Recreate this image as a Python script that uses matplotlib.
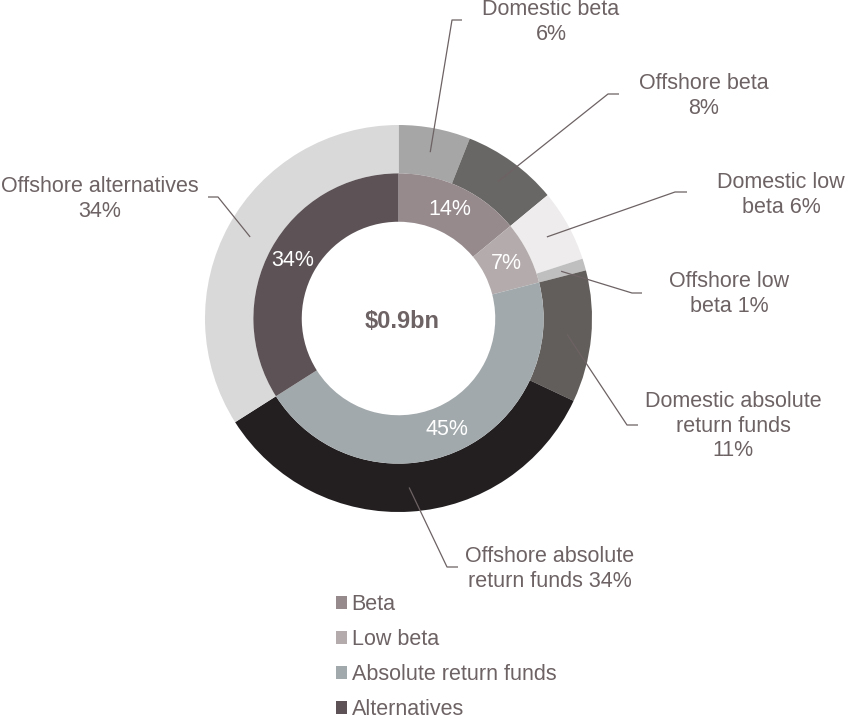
import matplotlib.pyplot as plt
import numpy as np

plt.rcParams['font.family'] = ['Liberation Sans', 'DejaVu Sans']

# inner ring: asset class split
inner_labels = ['Beta', 'Low beta', 'Absolute return funds', 'Alternatives']
inner_values = [14, 7, 45, 34]
inner_colors = ['#968a8d', '#b4acac', '#a2a9ac', '#5d5356']

# outer ring: domestic / offshore split
outer_labels = ['Domestic beta\n6%', 'Offshore beta\n8%', 'Domestic low\nbeta 6%',
                'Offshore low\nbeta 1%', 'Domestic absolute\nreturn funds\n11%',
                'Offshore absolute\nreturn funds 34%', 'Offshore alternatives\n34%']
outer_values = [6, 8, 6, 1, 11, 34, 34]
outer_colors = ['#a6a6a6', '#696765', '#eeecec', '#c0bfbf', '#625e5b', '#231f20', '#d9d9d9']

total_label = '$0.9bn'

txt = '#6d6264'
fs = 15.5

# pixel layout helpers
W, H = 846, 720
cx, cy, R = 398.5, 318.5, 193.5


def P(x, y):
    return ((x - cx) / R, (cy - y) / R)


fig = plt.figure(figsize=(W / 100, H / 100), dpi=100)
ax = fig.add_axes([0, 0, 1, 1])

outer_w, _ = ax.pie(outer_values, radius=1.0, startangle=90, counterclock=False,
                    colors=outer_colors, wedgeprops=dict(width=0.25, edgecolor='none'))
inner_w, _, autot = ax.pie(inner_values, radius=0.75, startangle=90, counterclock=False,
                           colors=inner_colors, autopct='%d%%', pctdistance=0.833,
                           wedgeprops=dict(width=0.25, edgecolor='none'),
                           textprops=dict(color='white', fontsize=fs))

ax.text(*P(402, 322), total_label, ha='center', va='center', fontsize=17,
        fontweight='bold', color=txt)

# label block centre, elbow, line end (pixels)
label_pos = [
    ((551, 22), (452, 20), (462, 20)),
    ((704, 96), (608, 94), (619, 94)),
    ((781, 195), (675, 192), (687, 192)),
    ((729, 294), (632, 293), (642, 293)),
    ((733, 426), (627, 425), (638, 425)),
    ((550, 569), (447, 567), (458, 567)),
    ((100, 199), (218, 197), (208, 197)),
]

for w, lab, (tp, el, en) in zip(outer_w, outer_labels, label_pos):
    a = np.deg2rad((w.theta1 + w.theta2) / 2)
    sx, sy = 0.875 * np.cos(a), 0.875 * np.sin(a)
    ex, ey = P(*el)
    nx, ny = P(*en)
    ax.plot([sx, ex, nx], [sy, ey, ny], color=txt, lw=0.9, solid_capstyle='butt')
    ax.text(*P(*tp), lab, ha='center', va='center', fontsize=fs, color=txt,
            multialignment='center', linespacing=1.22)

leg = ax.legend(inner_w, inner_labels, loc='upper left',
                bbox_to_anchor=(336 / W, 1 - 594 / H), bbox_transform=fig.transFigure,
                frameon=False, fontsize=fs, handlelength=0.53, handleheight=0.53,
                handletextpad=0.2, labelspacing=0.65, borderpad=0, borderaxespad=0)
for t in leg.get_texts():
    t.set_color(txt)

ax.set_xlim(-cx / R, (W - cx) / R)
ax.set_ylim(-(H - cy) / R, cy / R)
ax.set_aspect('equal', adjustable='box')
ax.axis('off')

fig.savefig('out.png', dpi=100)
